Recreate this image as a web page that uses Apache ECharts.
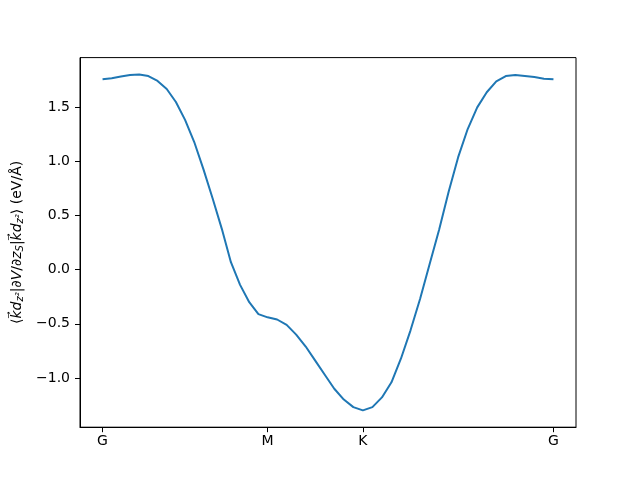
<!DOCTYPE html>
<html>
<head>
<meta charset="utf-8">
<script src="https://cdn.jsdelivr.net/npm/echarts@6/dist/echarts.min.js"></script>
<style>html,body{margin:0;padding:0;background:#fff}#c{width:640px;height:480px}</style>
</head>
<body>
<div id="c"></div>
<script>
// k-path segment lengths (G-M, M-K, K-G), hexagonal BZ ratios
const segLengths = [1.7320508, 1.0, 2.0];
const segSteps = [18, 10, 20];
const tickNames = ['G', 'M', 'K', 'G'];

// Values along each segment (eV/Å)
const valuesGM = [1.76, 1.77, 1.785, 1.80, 1.805, 1.79, 1.745, 1.67, 1.55, 1.385,
                  1.18, 0.93, 0.66, 0.38, 0.07, -0.14, -0.30, -0.41, -0.44];
const valuesMK = [-0.44, -0.46, -0.51, -0.60, -0.71, -0.84, -0.97, -1.10, -1.20, -1.27, -1.30];
const valuesKG = [-1.30, -1.27, -1.18, -1.04, -0.82, -0.56, -0.27, 0.05, 0.37, 0.72,
                  1.04, 1.30, 1.50, 1.64, 1.74, 1.79, 1.80, 1.79, 1.78, 1.765, 1.76];
const yTicks = [-1.0, -0.5, 0.0, 0.5, 1.0, 1.5];

// Build k-distance coordinates
const segValues = [valuesGM, valuesMK, valuesKG];
const tickPos = [0];
const data = [];
let start = 0;
segValues.forEach((vals, s) => {
  const step = segLengths[s] / segSteps[s];
  vals.forEach((v, i) => {
    if (s > 0 && i === 0) return;
    data.push([start + i * step, v]);
  });
  start += segLengths[s];
  tickPos.push(start);
});
const total = start;
const xPad = total * 0.05;
const allY = data.map(d => d[1]);
const yMinD = Math.min(...allY), yMaxD = Math.max(...allY);
const yPad = (yMaxD - yMinD) * 0.05;

const font = 'DejaVu Sans';
const chart = echarts.init(document.getElementById('c'), null, {renderer: 'canvas'});
chart.setOption({
  animation: false,
  backgroundColor: '#ffffff',
  grid: {left: 80, right: 64, top: 57.6, bottom: 52.8, show: true, borderColor: '#000', borderWidth: 1, backgroundColor: 'transparent'},
  xAxis: {
    type: 'value',
    min: -xPad, max: total + xPad,
    splitLine: {show: false},
    axisLine: {show: true, onZero: false, lineStyle: {color: '#000', width: 1}},
    axisTick: {show: true, length: 5, lineStyle: {color: '#000'}, customValues: tickPos},
    axisLabel: {
      customValues: tickPos,
      margin: 7,
      fontFamily: font, fontSize: 14, color: '#000',
      formatter: function (v) {
        let best = 0;
        tickPos.forEach((p, i) => { if (Math.abs(p - v) < Math.abs(tickPos[best] - v)) best = i; });
        return tickNames[best];
      }
    }
  },
  yAxis: {
    type: 'value',
    min: yMinD - yPad, max: yMaxD + yPad,
    splitLine: {show: false},
    axisLine: {show: true, onZero: false, lineStyle: {color: '#000', width: 1}},
    axisTick: {show: true, length: 5, lineStyle: {color: '#000'}, customValues: yTicks},
    axisLabel: {
      customValues: yTicks,
      margin: 10,
      fontFamily: font, fontSize: 14, color: '#000',
      formatter: function (v) { return (v < 0 ? '\u2212' : '') + Math.abs(v).toFixed(1); }
    },
    name: '\u27E8{i|k\u20D7d}{s|z\u00B2}|\u2202{i|V}/\u2202{i|z}{s|S}|{i|k\u20D7d}{s|z\u00B2}\u27E9 (eV/\u00C5)',
    nameLocation: 'middle',
    nameRotate: 90,
    nameGap: 52,
    nameTextStyle: {
      fontFamily: font, fontSize: 14, color: '#000',
      rich: {
        i: {fontFamily: font, fontSize: 14, fontStyle: 'italic', color: '#000'},
        s: {fontFamily: font, fontSize: 10, fontStyle: 'italic', color: '#000', padding: [6, 0, 0, 0]}
      }
    }
  },
  series: [{
    type: 'line',
    data: data,
    showSymbol: false,
    smooth: false,
    lineStyle: {color: '#1f77b4', width: 2},
    itemStyle: {color: '#1f77b4'}
  }]
});
</script>
</body>
</html>
